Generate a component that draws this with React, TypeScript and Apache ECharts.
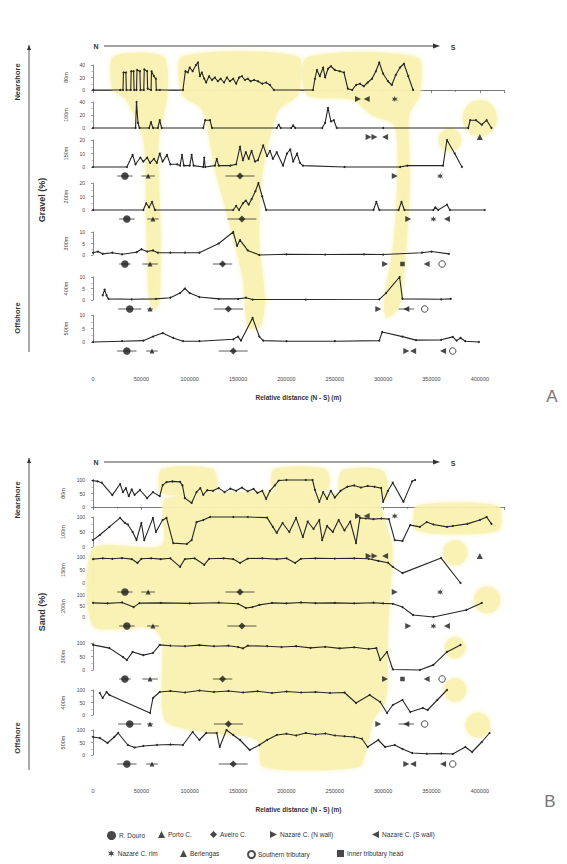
import React, { useEffect, useRef } from "react";
import * as echarts from "echarts";

const FONT = "'Liberation Sans', Arial, Helvetica, sans-serif";

// ---------------- data ----------------
// distance along the N–S profile in km, value in %
const DEPTHS = ["80m", "100m", "150m", "200m", "300m", "400m", "500m"];
const GRAVEL_MAX = [40, 40, 20, 20, 10, 10, 10];
const SAND_MAX = [100, 100, 100, 100, 100, 100, 100];
const X_MAX_M = 425000;
const X_STEP_M = 50000;

const gravel80 = [[0,0],[28,0],[31,0],[31.5,28],[34,28],[34.5,0],[39,0],[39.5,30],[42,30],[42.5,0],[45,0],[45.5,32],[48.5,30],[49,0],[52.5,0],[53,33],[56,30],[56.5,2],[60,0],[60.5,30],[63,22],[65,18],[65.5,0],[69,0],[93,0],[95.5,30],[98,28],[100,36],[103,30],[106.5,40],[108.5,44],[110.5,22],[112.5,28],[115,18],[117,12],[120,22],[123,16],[126,20],[129,14],[132,18],[135.5,12],[138.5,20],[141.5,14],[145,18],[148,10],[151,20],[154,22],[157,16],[160,18],[163,14],[166.5,16],[170.5,14],[175,10],[179,12],[183,8],[187,0],[227.5,0],[229.5,18],[231.5,32],[234.5,22],[238,36],[240,20],[243,34],[246,38],[250,32],[255,30],[259.5,28],[263.5,2],[268,0],[272,8],[276,10],[280,6],[284,12],[288.5,18],[292.5,30],[296,44],[300,26],[305,14],[309,8],[313,24],[317.5,36],[321.5,42],[326,22],[331,0]];
const gravel100 = [[0,0],[44,0],[45,40],[46.5,8],[48,0],[58,0],[60,9],[62,0],[67,0],[69,12],[71,0],[114,0],[116,12],[121,12],[123,0],[190,0],[192,5],[194,0],[205,0],[207,4],[209,0],[237,0],[240,8],[243,31],[246,10],[249,12],[252,0],[300,0],[388,0],[390,12],[396,12],[402,5],[407,12],[412,0]];
const gravel150 = [[0,0],[35,0],[41,9],[44,2],[49,7],[52,4],[56,7],[59,3],[63,6],[66,3],[69,10],[72,4],[76.5,9],[80,2],[87,2],[90,1],[92,9],[94,1],[100,1],[102,9],[104,1],[114,0],[115,7],[116,0],[126,1],[128,6],[130,1],[142,1],[148,2],[152,15],[155,5],[158,11],[161,6],[164,12],[167.5,4],[170.5,5],[176,16],[180,8],[183,12],[186,6],[190,11],[196.5,1],[200.5,10],[204,13],[207,4],[211,10],[214,3],[217,1],[260,0],[317.5,0],[325,1],[362,1],[366,20],[374,10],[381.5,0]];
const gravel200 = [[0,0],[52,0],[55,5],[58,2],[61,6],[64,0],[145,0],[148,3],[151,0],[155,5],[158,7],[161,4],[164,8],[168,14],[171,20],[175,10],[179,0],[290,0],[293,6],[296,0],[316,0],[319,6],[322,0],[352,0],[354,2],[357,0],[366,4],[369,0],[405,0]];
const gravel300 = [[0,1],[5,1.5],[10,0.5],[20,1],[30,0.3],[45,1.2],[50,2.5],[56,1.5],[62,2],[67,1],[80,1],[95,1],[110,1],[130,5],[145,10],[149,4],[152,6.5],[160,2],[172,0],[200,0.3],[240,0.2],[280,0.3],[300,0.2],[340,1],[350,1.5],[368,0.5]];
const gravel400 = [[10,2],[12,4.5],[14,2],[16,0.5],[40,0.3],[65,0.5],[80,1],[90,3],[95,5],[100,3],[110,1.3],[130,0.5],[150,0.5],[158,1],[165,0.2],[220,0.2],[296,0.3],[303,3],[317,10],[320,0.5],[360,0.3],[370,0.5]];
const gravel500 = [[0,0],[30,0.3],[52,0.5],[62,2],[72,3.3],[83,1.5],[93,0.3],[110,0.3],[145,1],[150,2],[153,0.5],[165,8.9],[172,2],[176,0.5],[200,0.3],[250,0.3],[296,0.5],[299,3.7],[320,2],[334,0.7],[360,0.8],[372,1.9],[376,0.5],[380,1.5],[385,0.3],[399,0]];

const sand80 = [[0,98],[4.7,95],[9,90],[20,44],[28,85],[31,55],[34,70],[37,40],[40,65],[43,45],[48.6,63],[56,33],[62,55],[69,40],[72,81],[76,92],[82,95],[90,93],[92.5,80],[95,33],[102,15],[107,55],[111,70],[114,45],[118,62],[124,60],[130,70],[136,55],[142,68],[148,60],[154,72],[160,58],[166,67],[170,52],[175,60],[179,30],[183,60],[188,80],[192,98],[200,100],[220,100],[227,100],[229.5,63],[234,19],[238,55],[242,30],[246,60],[250,35],[256,60],[263,75],[270,80],[277,72],[284,78],[291,75],[298,70],[300,19],[305,60],[310,90],[321,19],[330,95],[333,100]];
const sand100 = [[0,23],[7,40],[17,67],[28,97],[33,80],[36,75],[41,50],[45,23],[50,80],[53,23],[62,97],[65,50],[72,90],[76,97],[83,13],[97,10],[102,23],[107,83],[114,90],[121,100],[145,100],[160,100],[180,98],[186,67],[190,47],[196,80],[203,50],[210,97],[217,33],[222,85],[228,60],[234,90],[237,23],[242,70],[248,50],[254,90],[260,55],[266,85],[272,13],[276,97],[282,95],[290,93],[298,95],[306,93],[312,23],[320,20],[328,73],[338,67],[345,83],[352,75],[366,67],[372,70],[387,77],[400,90],[407,100],[412,77]];
const sand150 = [[0,92],[10,95],[20,93],[30,96],[40,92],[46,77],[50,93],[60,95],[70,92],[80,95],[90,62],[95,92],[105,95],[115,70],[120,93],[135,95],[145,92],[152,77],[160,94],[175,95],[190,92],[200,95],[209,77],[215,93],[230,95],[250,94],[270,95],[285,93],[295,85],[305,78],[310,62],[320,38],[360,96],[380,0]];
const sand200 = [[0,64],[15,62],[30,66],[42,45],[48,63],[70,64],[100,62],[130,65],[150,60],[158,41],[165,45],[172,55],[185,64],[200,62],[215,66],[230,63],[250,64],[270,62],[290,65],[300,62],[310,60],[320,45],[331,9],[352,0],[386,32],[402,64]];
const sand300 = [[0,93],[17,81],[31,48],[35,37],[41,67],[52,55],[62,63],[69,93],[80,90],[95,88],[110,92],[125,88],[140,90],[150,85],[155,80],[160,90],[180,88],[195,85],[210,88],[225,82],[240,86],[255,80],[270,84],[285,78],[293,81],[297,37],[304,67],[310,2],[338,0],[352,19],[366,67],[380,93]];
const sand400 = [[7,88],[10,68],[14,92],[17,80],[59,8],[62,68],[69,92],[80,96],[95,90],[110,98],[125,92],[140,96],[155,90],[170,95],[185,88],[200,94],[215,90],[230,92],[245,88],[260,90],[272,48],[286,80],[297,52],[304,8],[310,40],[320,60],[328,12],[341,28],[346,20],[356,60],[366,100]];
const sand500 = [[0,72],[7,68],[15,48],[22,72],[26,88],[36,40],[43,30],[52,36],[66,40],[80,42],[93,40],[103,92],[110,60],[117,88],[128,88],[131,32],[138,100],[145,80],[152,60],[162,20],[172,40],[180,60],[190,80],[200,85],[210,78],[220,88],[230,82],[240,86],[250,78],[260,75],[270,72],[278,65],[284,32],[295,60],[302,32],[312,40],[320,24],[330,8],[345,5],[360,6],[372,4],[385,32],[392,12],[402,52],[410,88]];

// morphological features: [feature, km, ± error km]
const markers80 = [["nw",274,0],["sw",283,0],["rim",312,0]];
const markers100 = [["nw",285,0],["nw",291,0],["sw",302,0],["berl",400,0]];
const markers150 = [["douro",33,8],["porto",57,7],["aveiro",152,15],["nw",312,0],["rim",359,0]];
const markers200 = [["douro",35,8],["porto",62,6],["aveiro",154,15],["nw",326,0],["rim",352,0],["sw",366,0]];
const markers300 = [["douro",33,6],["porto",59,8],["aveiro",134,10],["nw",302,0],["head",320,0],["sw",345,0],["south",361,0]];
const markers400 = [["douro",38,12],["porto",59,3],["aveiro",140,15],["nw",295,0],["sw",324,8],["south",343,0]];
const markers500 = [["douro",35,10],["porto",61,6],["aveiro",145,15],["nw",324,0],["sw",331,0],["sw",362,0],["south",372,0]];

// highlighted zones: polygons [km, row position] and blobs [km, row, radius km, radius rows]
const zonesA = [
  [[21,-0.8],[73,-0.8],[77,0.12],[68,1.19],[70,3.33],[69,5.0],[64,5.25],[58,5.0],[55,3.33],[52,1.19],[34,0.24],[20,0]],
  [[92,-0.8],[212,-0.8],[212,0.12],[192,0.48],[176,1.9],[172,3.57],[178,5.0],[173,5.65],[160,5.65],[155,4.52],[140,3.1],[126,1.9],[113,0.48],[92,0.12]],
  [[221,-0.78],[336,-0.78],[338,0.12],[327,0.6],[328,2.14],[323,4.05],[316,5.2],[303,5.42],[301,5.0],[311,3.57],[315,1.67],[311,0.83],[288,0.6],[268,0.24],[221,0.12]],
];
const blobsA = [[400,0.67,18,0.44],[369,1.19,12,0.28]];
const zonesB = [
  [[76,-0.22],[290,-0.22],[305,0.56],[310,1.0],[307,2.25],[305,3.22],[303,4.67],[290,5.16],[283,5.85],[275,6.3],[176,6.3],[169,5.64],[112,5.45],[74,5.16],[71,3.22],[60,2.93],[0,2.88],[0,1.0],[71,0.92]],
  [[71,-0.92],[124,-0.92],[127,-0.38],[71,-0.33]],
  [[187,-0.92],[241,-0.92],[243,-0.43],[187,-0.38]],
  [[257,-0.88],[300,-0.88],[303,-0.19],[257,-0.19]],
  [[335,-0.03],[419,-0.03],[419,0.58],[335,0.58]],
];
const blobsB = [[374.4,1.11,13,0.31],[407.4,2.25,14,0.33],[374.4,3.41,11,0.27],[374.4,4.43,12,0.29],[398,5.28,13,0.31]];

const GRAVEL_ROWS = [gravel80, gravel100, gravel150, gravel200, gravel300, gravel400, gravel500];
const SAND_ROWS = [sand80, sand100, sand150, sand200, sand300, sand400, sand500];
const MARKER_ROWS = [markers80, markers100, markers150, markers200, markers300, markers400, markers500];

// ---------------- styling / layout ----------------
const STAR = "path://M5,0L6.2,3.3L9.8,2.6L7.4,5.2L9.6,8.2L6,7.3L5,10.5L4,7.3L0.4,8.2L2.6,5.2L0.2,2.6L3.8,3.3Z";
const FEATURES: Record<string, any> = {
  douro: { name: "R. Douro", symbol: "circle", size: 7.5 },
  porto: { name: "Porto C.", symbol: "triangle", size: 5 },
  aveiro: { name: "Aveiro C.", symbol: "diamond", size: 7 },
  nw: { name: "Nazaré C. (N wall)", symbol: "path://M0,0L10,5L0,10Z", size: 6 },
  sw: { name: "Nazaré C. (S wall)", symbol: "path://M10,0L0,5L10,10Z", size: 6 },
  rim: { name: "Nazaré C. rim", symbol: STAR, size: 6 },
  berl: { name: "Berlengas", symbol: "triangle", size: 6 },
  south: { name: "Southern tributary", symbol: "circle", size: 6.5, hollow: true },
  head: { name: "Inner tributary head", symbol: "rect", size: 4.5 },
};
const LEGEND_POS: [string, number, number][] = [
  ["douro", 107, 831], ["porto", 158, 831], ["aveiro", 210, 831], ["nw", 270, 831], ["sw", 372, 831],
  ["rim", 108, 850], ["berl", 180, 850], ["south", 247, 850], ["head", 337, 850],
];
const PANELS = [
  { tops: [65, 102, 140, 183, 232, 277, 315], bases: [90, 128, 167, 210, 255, 300, 342], rows: GRAVEL_ROWS, max: GRAVEL_MAX,
    overlayTop: 58.5, overlayH: 304.5, zones: zonesA, blobs: blobsA },
  { tops: [480, 517, 557, 595, 643, 690, 730], bases: [507, 547, 583, 617, 670, 715, 755], rows: SAND_ROWS, max: SAND_MAX,
    overlayTop: 476, overlayH: 299.4, zones: zonesB, blobs: blobsB },
];
const YELLOW = "#f9f1b0";
const INK = "#262626";

function buildOption() {
  const option: any = { animation: false, grid: [], xAxis: [], yAxis: [], series: [] };

  PANELS.forEach((P) => {
    P.rows.forEach((rowData: number[][], i: number) => {
      const g = option.grid.length;
      const top = P.tops[i];
      const h = P.bases[i] - top;
      const m = P.max[i];
      option.grid.push({ left: 93, right: 63, top, height: h });
      option.xAxis.push({ gridIndex: g, type: "value", min: 0, max: X_MAX_M, show: false, splitLine: { show: false } });
      option.yAxis.push({
        gridIndex: g, type: "value", min: 0, max: m, interval: m / 2, offset: 5,
        name: DEPTHS[i], nameLocation: "middle", nameRotate: 90, nameGap: 19,
        nameTextStyle: { fontSize: 5.5, color: "#444", fontFamily: FONT },
        axisLine: { show: true, lineStyle: { color: "#555", width: 0.7 } },
        axisTick: { show: true, length: 2, lineStyle: { color: "#555", width: 0.6 } },
        minorTick: { show: true, splitNumber: 2, length: 1.5, lineStyle: { color: "#777", width: 0.5 } },
        axisLabel: { fontSize: 5, color: "#444", margin: 3, fontFamily: FONT },
        splitLine: { show: false },
      });
      option.series.push({
        type: "line", xAxisIndex: g, yAxisIndex: g,
        data: rowData.map(([k, v]) => [k * 1000, v]),
        symbol: "circle", symbolSize: 2, showSymbol: true,
        lineStyle: { color: INK, width: 1.1 }, itemStyle: { color: INK },
        clip: false, z: 3, silent: true,
      });
      const lvl = (-m * 9) / h;
      const mk = MARKER_ROWS[i] as any[];
      const errs = mk.filter((d) => d[2] > 0).map((d) => [d[1] * 1000, lvl, d[2] * 1000]);
      if (errs.length) {
        option.series.push({
          type: "custom", xAxisIndex: g, yAxisIndex: g, data: errs, z: 3, silent: true,
          renderItem: (params: any, api: any) => {
            const x = api.value(0), y = api.value(1), e = api.value(2);
            const a = api.coord([x - e, y]);
            const b = api.coord([x + e, y]);
            return { type: "line", shape: { x1: a[0], y1: a[1], x2: b[0], y2: b[1] }, style: { stroke: "#333", lineWidth: 0.8 } };
          },
        });
      }
      Object.keys(FEATURES).forEach((key) => {
        const pts = mk.filter((d) => d[0] === key);
        if (!pts.length) return;
        const F = FEATURES[key];
        option.series.push({
          type: "scatter", name: F.name, xAxisIndex: g, yAxisIndex: g,
          data: pts.map((d) => [d[1] * 1000, lvl]),
          symbol: F.symbol, symbolSize: F.size,
          itemStyle: F.hollow ? { color: "#fff", borderColor: "#222", borderWidth: 1 } : { color: "#1a1a1a" },
          clip: false, z: 4, silent: true,
        });
      });
    });

    // overlay grid: highlighted zones + distance axis
    const og = option.grid.length;
    option.grid.push({ left: 93, right: 63, top: P.overlayTop, height: P.overlayH });
    option.xAxis.push({
      gridIndex: og, type: "value", min: 0, max: X_MAX_M, interval: X_STEP_M, position: "bottom",
      axisLine: { show: true, lineStyle: { color: "#555", width: 0.8 } },
      axisTick: { show: true, length: 3, lineStyle: { color: "#555", width: 0.7 } },
      minorTick: { show: true, splitNumber: 2, length: 2, lineStyle: { color: "#666", width: 0.6 } },
      axisLabel: { fontSize: 5.5, color: "#444", margin: 13, showMaxLabel: false, fontFamily: FONT, formatter: (v: number) => String(v) },
      splitLine: { show: false },
      name: "Relative distance (N - S) (m)", nameLocation: "middle", nameGap: 31,
      nameTextStyle: { fontSize: 6.5, fontWeight: "bold", color: "#333", fontFamily: FONT },
    });
    option.yAxis.push({ gridIndex: og, type: "value", min: -0.75, max: 6.5, inverse: true, show: false, splitLine: { show: false } });
    const zones = P.zones;
    const blobs = P.blobs;
    option.series.push({
      type: "custom", xAxisIndex: og, yAxisIndex: og, z: 1, silent: true,
      data: zones.map(() => [0, 0]),
      renderItem: (params: any, api: any) => {
        const poly = zones[params.dataIndex];
        return {
          type: "polygon",
          shape: { points: poly.map(([k, r]: number[]) => api.coord([k * 1000, r])), smooth: 0.25 },
          style: { fill: YELLOW, opacity: 0.8, shadowBlur: 5, shadowColor: YELLOW },
        };
      },
    });
    option.series.push({
      type: "custom", xAxisIndex: og, yAxisIndex: og, z: 1, silent: true,
      data: blobs.map(() => [0, 0]),
      renderItem: (params: any, api: any) => {
        const [k, r, rk, rr] = blobs[params.dataIndex];
        const c = api.coord([k * 1000, r]);
        const c2 = api.coord([(k + rk) * 1000, r + rr]);
        const rx = Math.abs(c2[0] - c[0]);
        const ry = Math.abs(c2[1] - c[1]);
        const pts: number[][] = [];
        for (let j = 0; j < 16; j++) {
          const a = (j / 16) * Math.PI * 2;
          pts.push([c[0] + rx * Math.cos(a), c[1] + ry * Math.sin(a)]);
        }
        return { type: "polygon", shape: { points: pts }, style: { fill: YELLOW, opacity: 0.8, shadowBlur: 5, shadowColor: YELLOW } };
      },
    });
  });

  option.legend = LEGEND_POS.map(([k, left, top]) => ({
    data: [FEATURES[k].name], left, top, padding: 0, itemGap: 0,
    itemWidth: k === "douro" ? 9 : 7, itemHeight: k === "douro" ? 9 : 7,
    selectedMode: false,
    textStyle: { fontSize: 6.5, color: "#333", fontFamily: FONT, padding: [0, 0, 0, -2] },
  }));

  const txt = (x: number, y: number, s: string, size: number, rot = 0, weight = "bold", color = "#333") => ({
    type: "text", x, y, rotation: rot, silent: true,
    style: { text: s, fontSize: size, fontWeight: weight, fill: color, fontFamily: FONT, textAlign: "center", textVerticalAlign: "middle", verticalAlign: "middle" },
  });
  const arrowNS = (y: number) => [
    { type: "line", silent: true, shape: { x1: 104, y1: y, x2: 434, y2: y }, style: { stroke: "#444", lineWidth: 1 } },
    { type: "polygon", silent: true, shape: { points: [[433, y - 2.5], [440, y], [433, y + 2.5]] }, style: { fill: "#333" } },
    txt(96, y, "N", 7),
    txt(453, y + 1, "S", 7),
  ];
  const vert = (y1: number, y2: number) => [
    { type: "line", silent: true, shape: { x1: 29, y1, x2: 29, y2 }, style: { stroke: "#444", lineWidth: 0.9 } },
    { type: "polygon", silent: true, shape: { points: [[27, y1 + 5], [29, y1], [31, y1 + 5]] }, style: { fill: "#333" } },
  ];
  option.graphic = [
    ...arrowNS(46), ...arrowNS(462),
    ...vert(45, 352), ...vert(458, 770),
    txt(17, 82, "Nearshore", 7.5, Math.PI / 2),
    txt(17, 318, "Offshore", 7.5, Math.PI / 2),
    txt(17, 500, "Nearshore", 7.5, Math.PI / 2),
    txt(17, 738, "Offshore", 7.5, Math.PI / 2),
    txt(42, 200, "Gravel (%)", 9, Math.PI / 2),
    txt(42, 612, "Sand (%)", 9, Math.PI / 2),
    txt(552, 396, "A", 17, 0, "normal", "#777"),
    txt(550, 801, "B", 17, 0, "normal", "#777"),
  ];
  return option;
}

export default function App() {
  const ref = useRef<HTMLDivElement>(null);
  useEffect(() => {
    if (!ref.current) return;
    const chart = echarts.init(ref.current, null, { renderer: "svg" });
    chart.setOption(buildOption());
    return () => chart.dispose();
  }, []);
  return (
    <div
      ref={ref}
      style={{ position: "absolute", left: 0, top: 0, width: 567, height: 864, background: "#fff" }}
    />
  );
}
